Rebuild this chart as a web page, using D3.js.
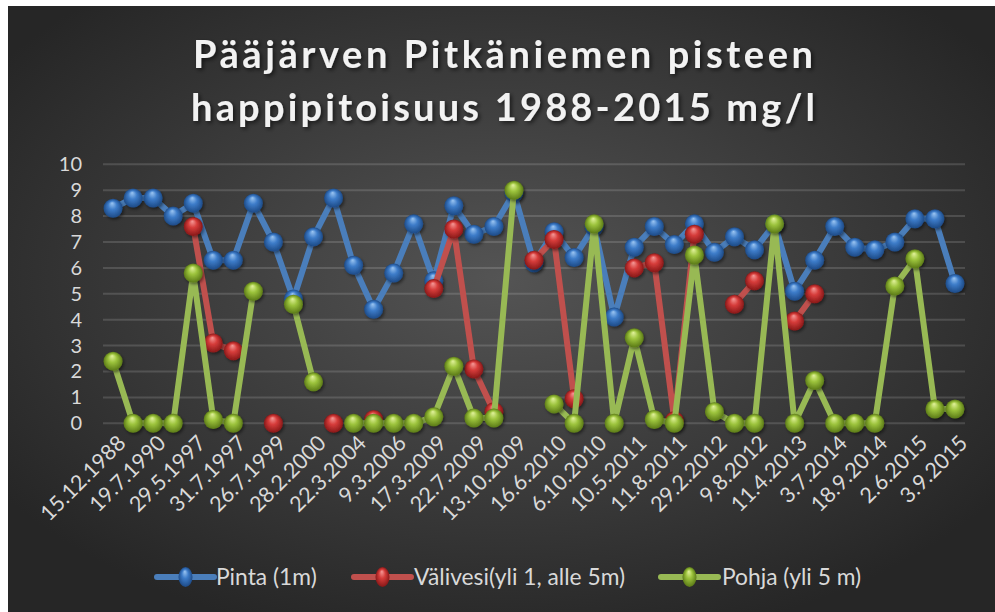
<!DOCTYPE html>
<html>
<head>
<meta charset="utf-8">
<script src="https://cdn.jsdelivr.net/npm/d3@7"></script>
<style>
  body { margin: 0; background: #fff; }
  svg { display: block; }
</style>
</head>
<body>
<div id="chart"></div>
<script>
const tickLabels = ["15.12.1988", "19.7.1990", "29.5.1997", "31.7.1997", "26.7.1999",
  "28.2.2000", "22.3.2004", "9.3.2006", "17.3.2009", "22.7.2009", "13.10.2009",
  "16.6.2010", "6.10.2010", "10.5.2011", "11.8.2011", "29.2.2012", "9.8.2012",
  "11.4.2013", "3.7.2014", "18.9.2014", "2.6.2015", "3.9.2015"];

const pinta = [8.3, 8.7, 8.7, 8.0, 8.5, 6.3, 6.3, 8.5, 7.0, 4.8, 7.2, 8.7, 6.1, 4.4, 5.8,
  7.7, 5.5, 8.4, 7.3, 7.6, 8.9, 6.2, 7.4, 6.4, 7.6, 4.1, 6.8, 7.6, 6.9, 7.7, 6.6, 7.2,
  6.7, 7.7, 5.1, 6.3, 7.6, 6.8, 6.7, 7.0, 7.9, 7.9, 5.4];

const valivesi = [null, null, null, null, 7.6, 3.1, 2.8, null, 0, null, null, 0, null, 0.15,
  null, null, 5.2, 7.5, 2.1, 0.45, null, 6.3, 7.1, 0.95, null, null, 6.0, 6.2, 0.1, 7.3,
  null, 4.6, 5.5, null, 3.95, 5.0, null, null, null, null, null, null, null];

const pohja = [2.4, 0, 0, 0, 5.8, 0.15, 0, 5.1, null, 4.6, 1.6, null, 0, 0, 0, 0, 0.25, 2.2,
  0.2, 0.2, 9.0, null, 0.75, 0, 7.7, 0, 3.3, 0.15, 0, 6.5, 0.45, 0, 0, 7.7, 0, 1.65, 0, 0,
  0, 5.3, 6.35, 0.55, 0.55];

const seriesNames = ["Pinta (1m)", "Välivesi(yli 1, alle 5m)", "Pohja (yli 5 m)"];
const yTicks = [0, 1, 2, 3, 4, 5, 6, 7, 8, 9, 10];

const width = 995, height = 612;
const font = "Lato, 'Open Sans', sans-serif";
const textColor = "#d9d9d9";

const styles = [
  { line: "#4a7ebb", light: "#9cc6f2", mid: "#3d7cc9", dark: "#1d4a86" },
  { line: "#c0504d", light: "#f59a98", mid: "#d63c3a", dark: "#871818" },
  { line: "#98b954", light: "#e2f29c", mid: "#9cc33c", dark: "#5b7a17" }
];
const series = [pinta, valivesi, pohja];

const svg = d3.select("#chart").append("svg")
  .attr("width", width)
  .attr("height", height);

const defs = svg.append("defs");

const bg = defs.append("radialGradient").attr("id", "bg")
  .attr("cx", "50%").attr("cy", "45%").attr("r", "62%");
bg.append("stop").attr("offset", "0%").attr("stop-color", "#545454");
bg.append("stop").attr("offset", "100%").attr("stop-color", "#262626");

styles.forEach((s, i) => {
  const g = defs.append("radialGradient").attr("id", "ball" + i)
    .attr("cx", "50%").attr("cy", "50%").attr("r", "50%")
    .attr("fx", "45%").attr("fy", "22%");
  g.append("stop").attr("offset", "0%").attr("stop-color", s.light);
  g.append("stop").attr("offset", "45%").attr("stop-color", s.mid);
  g.append("stop").attr("offset", "100%").attr("stop-color", s.dark);
});

const shadow = defs.append("filter").attr("id", "shadow")
  .attr("x", "-50%").attr("y", "-50%").attr("width", "200%").attr("height", "200%");
shadow.append("feDropShadow").attr("dx", 1.5).attr("dy", 2).attr("stdDeviation", 1.5)
  .attr("flood-color", "#000").attr("flood-opacity", 0.45);

const titleShadow = defs.append("filter").attr("id", "tshadow");
titleShadow.append("feDropShadow").attr("dx", 2).attr("dy", 2).attr("stdDeviation", 2)
  .attr("flood-color", "#000").attr("flood-opacity", 0.6);

// chart background
svg.append("rect")
  .attr("x", 8).attr("y", 6)
  .attr("width", width - 8).attr("height", height - 6)
  .attr("fill", "url(#bg)");

// title
const titleLines = ["Pääjärven Pitkäniemen pisteen", "happipitoisuus 1988-2015 mg/l"];
svg.append("g").attr("filter", "url(#tshadow)")
  .selectAll("text").data(titleLines).join("text")
  .attr("x", 503)
  .attr("y", (d, i) => 68 + i * 53)
  .attr("text-anchor", "middle")
  .attr("font-family", font)
  .attr("font-weight", "bold")
  .attr("font-size", 38)
  .attr("fill", "#f2f2f2")
  .attr("textLength", (d, i) => (i === 0 ? 620 : 624))
  .attr("lengthAdjust", "spacing")
  .text((d) => d);

const x = d3.scalePoint()
  .domain(d3.range(pinta.length))
  .range([103, 965])
  .padding(0.5);

const y = d3.scaleLinear().domain([0, 10]).range([423.3, 164.3]);

// gridlines
svg.append("g")
  .selectAll("line").data(yTicks).join("line")
  .attr("x1", 103).attr("x2", 965)
  .attr("y1", (d) => y(d)).attr("y2", (d) => y(d))
  .attr("stroke", "#ffffff")
  .attr("stroke-opacity", 0.14)
  .attr("stroke-width", 2);

// y axis labels
const yAxis = svg.append("g")
  .attr("transform", "translate(90,0)")
  .call(d3.axisLeft(y).tickValues(yTicks).tickSize(0).tickPadding(8));
yAxis.select(".domain").remove();
yAxis.selectAll("text")
  .attr("font-family", font)
  .attr("font-size", 20)
  .attr("fill", textColor);

// x axis labels (every other category)
const xAxis = svg.append("g")
  .attr("transform", "translate(0,432)")
  .call(d3.axisBottom(x)
    .tickValues(x.domain().filter((d) => d % 2 === 0))
    .tickFormat((d) => tickLabels[d / 2])
    .tickSize(0));
xAxis.select(".domain").remove();
xAxis.selectAll("text")
  .attr("font-family", font)
  .attr("font-size", 21.5)
  .attr("fill", textColor)
  .attr("text-anchor", "end")
  .attr("dy", "0.35em")
  .attr("transform", "translate(6,5) rotate(-45)");

// series: line and markers, drawn in order so green ends on top
const line = d3.line()
  .defined((d) => d !== null)
  .x((d, i) => x(i))
  .y((d) => y(d));

series.forEach((values, si) => {
  const g = svg.append("g");
  g.append("path")
    .datum(values)
    .attr("d", line)
    .attr("fill", "none")
    .attr("stroke", styles[si].line)
    .attr("stroke-width", 6)
    .attr("stroke-linejoin", "round");

  g.selectAll("circle")
    .data(values.map((v, i) => ({ v, i })).filter((d) => d.v !== null))
    .join("circle")
    .attr("cx", (d) => x(d.i))
    .attr("cy", (d) => y(d.v))
    .attr("r", 9.5)
    .attr("fill", `url(#ball${si})`)
    .attr("filter", "url(#shadow)");
});

// legend
const legendItems = [
  { x: 157, tx: 216 },
  { x: 354, tx: 414 },
  { x: 661, tx: 722 }
];
const legend = svg.append("g").attr("transform", "translate(0,577)");
legendItems.forEach((item, i) => {
  legend.append("line")
    .attr("x1", item.x).attr("x2", item.x + 57)
    .attr("y1", 0).attr("y2", 0)
    .attr("stroke", styles[i].line)
    .attr("stroke-width", 6)
    .attr("stroke-linecap", "round");
  legend.append("ellipse")
    .attr("cx", item.x + 28.5).attr("cy", 0)
    .attr("rx", 7).attr("ry", 10)
    .attr("fill", `url(#ball${i})`);
  legend.append("text")
    .attr("x", item.tx)
    .attr("y", 0)
    .attr("dy", "0.35em")
    .attr("font-family", font)
    .attr("font-size", 22.8)
    .attr("fill", textColor)
    .text(seriesNames[i]);
});
</script>
</body>
</html>
